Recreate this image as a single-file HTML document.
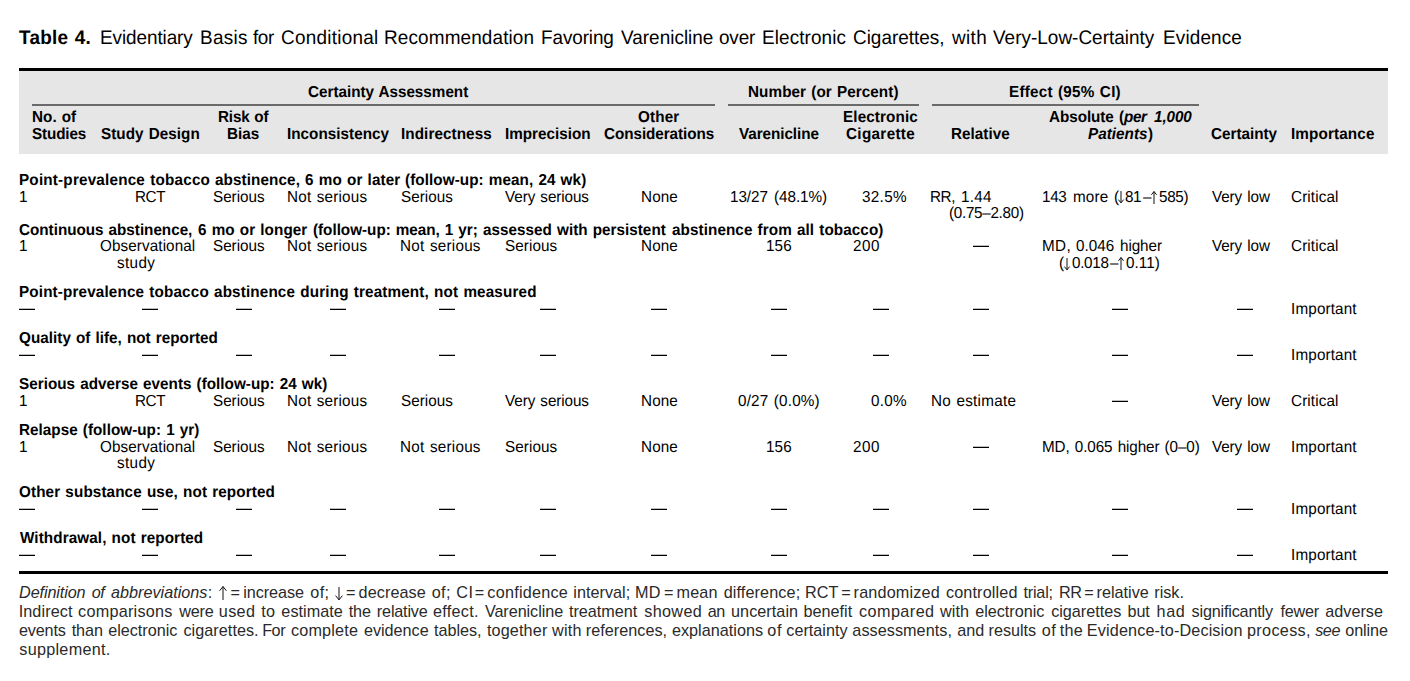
<!DOCTYPE html>
<html lang="en">
<head>
<meta charset="utf-8">
<title>Table 4</title>
<style>
html,body{margin:0;padding:0;background:#fff;}
body{width:1410px;height:681px;position:relative;overflow:hidden;font-family:"Liberation Sans",sans-serif;color:#000;}
.t{position:absolute;white-space:pre;line-height:20px;height:20px;margin:0;font-size:15.3px;transform:scaleY(1.04) skewX(.3deg);transform-origin:0 15px;}
.b{font-weight:bold;}
.i{font-style:italic;}
.f{font-size:16.2px;transform:none;color:#2a2a2a;}
.h{font-size:19.0px;transform:scaleY(1.03) skewX(.3deg);transform-origin:0 16px;}
.r,.a,.d{position:absolute;}
.d{width:16px;height:1px;background:#000;border-top:1px solid #bdbdbd;}
.a{overflow:visible;}
</style>
</head>
<body>
<div class="r" style="left:19px;top:71px;width:1369.3px;height:82.7px;background:#e6e6e6"></div>
<div class="r" style="left:19px;top:68px;width:1369.3px;height:3px;background:#000"></div>
<div class="r" style="left:32px;top:104px;width:683px;height:2px;background:#6a6a6a"></div>
<div class="r" style="left:728px;top:104px;width:191px;height:2px;background:#6a6a6a"></div>
<div class="r" style="left:932px;top:104px;width:267px;height:2px;background:#6a6a6a"></div>
<div class="r" style="left:19px;top:571px;width:1369.3px;height:3px;background:#000"></div>
<div class="t b h" style="left:19.34px;top:28px;letter-spacing:0.226px;word-spacing:0.8px;">Table 4.</div>
<div class="t h" style="left:99.69px;top:28px;letter-spacing:-0.119px;">Evidentiary</div>
<div class="t h" style="left:199.69px;top:28px;letter-spacing:0.246px;">Basis</div>
<div class="t h" style="left:252.54px;top:28px;letter-spacing:-0.450px;">for</div>
<div class="t h" style="left:280.99px;top:28px;letter-spacing:0.227px;">Conditional</div>
<div class="t h" style="left:384.19px;top:28px;letter-spacing:0.091px;">Recommendation</div>
<div class="t h" style="left:541.39px;top:28px;letter-spacing:-0.148px;">Favoring</div>
<div class="t h" style="left:620.87px;top:28px;letter-spacing:-0.016px;">Varenicline</div>
<div class="t h" style="left:719.45px;top:28px;letter-spacing:-0.216px;">over</div>
<div class="t h" style="left:761.99px;top:28px;letter-spacing:0.060px;">Electronic</div>
<div class="t h" style="left:853.29px;top:28px;letter-spacing:-0.040px;">Cigarettes,</div>
<div class="t h" style="left:951.98px;top:28px;letter-spacing:0.306px;">with</div>
<div class="t h" style="left:993.47px;top:28px;letter-spacing:-0.014px;">Very-Low-Certainty</div>
<div class="t h" style="left:1162.69px;top:28px;letter-spacing:0.106px;">Evidence</div>
<div class="t b" style="left:308.42px;top:82px;letter-spacing:-0.035px;word-spacing:0.8px;">Certainty Assessment</div>
<div class="t b" style="left:748.23px;top:82px;letter-spacing:0.055px;word-spacing:0.8px;">Number (or Percent)</div>
<div class="t b" style="left:1009.03px;top:82px;letter-spacing:0.213px;word-spacing:0.8px;">Effect (95% CI)</div>
<div class="t b" style="left:31.63px;top:107px;letter-spacing:0.013px;word-spacing:0.8px;">No. of</div>
<div class="t b" style="left:32.21px;top:124px;letter-spacing:-0.164px;">Studies</div>
<div class="t b" style="left:100.91px;top:124px;letter-spacing:0.023px;word-spacing:0.8px;">Study Design</div>
<div class="t b" style="left:218.23px;top:107px;letter-spacing:-0.201px;word-spacing:0.8px;">Risk of</div>
<div class="t b" style="left:226.93px;top:124px;letter-spacing:0.013px;">Bias</div>
<div class="t b" style="left:286.83px;top:124px;">Inconsistency</div>
<div class="t b" style="left:400.63px;top:124px;letter-spacing:0.058px;">Indirectness</div>
<div class="t b" style="left:504.73px;top:124px;letter-spacing:-0.029px;">Imprecision</div>
<div class="t b" style="left:638.22px;top:107px;letter-spacing:0.116px;">Other</div>
<div class="t b" style="left:604.22px;top:124px;letter-spacing:-0.091px;">Considerations</div>
<div class="t b" style="left:738.65px;top:124px;letter-spacing:-0.085px;">Varenicline</div>
<div class="t b" style="left:843.03px;top:107px;letter-spacing:0.101px;">Electronic</div>
<div class="t b" style="left:845.92px;top:124px;letter-spacing:0.306px;">Cigarette</div>
<div class="t b" style="left:951.13px;top:124px;">Relative</div>
<div class="t b" style="left:1048.97px;top:107px;letter-spacing:-0.091px;">Absolute</div>
<div class="t b" style="left:1119.44px;top:107px;">(</div>
<div class="t b i" style="left:1123.82px;top:107px;letter-spacing:-0.450px;">per</div>
<div class="t b i" style="left:1154.10px;top:107px;letter-spacing:-0.121px;">1,000</div>
<div class="t b i" style="left:1088.28px;top:124px;">Patients</div>
<div class="t b" style="left:1148.29px;top:124px;">)</div>
<div class="t b" style="left:1211.42px;top:124px;letter-spacing:-0.024px;">Certainty</div>
<div class="t b" style="left:1291.13px;top:124px;letter-spacing:0.110px;">Importance</div>
<div class="t b" style="left:18.73px;top:170px;letter-spacing:0.172px;word-spacing:0.8px;">Point-prevalence tobacco</div>
<div class="t b" style="left:214.80px;top:170px;letter-spacing:0.073px;word-spacing:0.8px;">abstinence, 6 mo or later</div>
<div class="t b" style="left:405.49px;top:170px;letter-spacing:0.052px;word-spacing:0.8px;">(follow-up: mean, 24 wk)</div>
<div class="t" style="left:19.03px;top:187px;">1</div>
<div class="t" style="left:213.36px;top:187px;letter-spacing:-0.053px;">Serious</div>
<div class="t" style="left:286.69px;top:187px;letter-spacing:0.174px;word-spacing:1.0px;">Not serious</div>
<div class="t" style="left:640.59px;top:187px;letter-spacing:0.089px;">None</div>
<div class="t" style="left:1211.98px;top:187px;letter-spacing:-0.126px;word-spacing:1.0px;">Very low</div>
<div class="t" style="left:1291.37px;top:187px;letter-spacing:0.094px;">Critical</div>
<div class="t" style="left:134.68px;top:187px;letter-spacing:-0.450px;">RCT</div>
<div class="t" style="left:400.96px;top:187px;letter-spacing:0.014px;">Serious</div>
<div class="t" style="left:505.48px;top:187px;letter-spacing:-0.105px;word-spacing:1.0px;">Very serious</div>
<div class="t" style="left:730.08px;top:187px;letter-spacing:-0.086px;">13/27</div>
<div class="t" style="left:774.30px;top:187px;letter-spacing:-0.061px;">(48.1%)</div>
<div class="t" style="left:861.97px;top:187px;letter-spacing:0.289px;">32.5%</div>
<div class="t" style="left:930.29px;top:187px;letter-spacing:-0.450px;">RR,</div>
<div class="t" style="left:960.58px;top:187px;letter-spacing:0.281px;">1.44</div>
<div class="t" style="left:1042.18px;top:187px;letter-spacing:-0.342px;">143</div>
<div class="t" style="left:1073.13px;top:187px;letter-spacing:0.115px;">more</div>
<div class="t" style="left:1113.65px;top:187px;">(</div>
<div class="t" style="left:1125.13px;top:187px;letter-spacing:-0.450px;">81</div>
<div class="t" style="left:1143.15px;top:187px;">–</div>
<div class="t" style="left:1158.74px;top:187px;letter-spacing:-0.352px;">585)</div>
<div class="t" style="left:949.20px;top:203px;letter-spacing:-0.324px;">(0.75–2.80)</div>
<div class="t b" style="left:19.12px;top:220px;letter-spacing:-0.039px;word-spacing:0.8px;">Continuous abstinence,</div>
<div class="t b" style="left:197.79px;top:220px;letter-spacing:0.050px;word-spacing:0.8px;">6 mo or longer</div>
<div class="t b" style="left:313.09px;top:220px;letter-spacing:-0.034px;word-spacing:0.8px;">(follow-up: mean, 1 yr;</div>
<div class="t b" style="left:483.10px;top:220px;letter-spacing:0.006px;word-spacing:0.8px;">assessed with persistent</div>
<div class="t b" style="left:672.10px;top:220px;letter-spacing:0.059px;word-spacing:0.8px;">abstinence from all tobacco)</div>
<div class="t" style="left:19.03px;top:236px;">1</div>
<div class="t" style="left:213.36px;top:236px;letter-spacing:-0.053px;">Serious</div>
<div class="t" style="left:286.69px;top:236px;letter-spacing:0.174px;word-spacing:1.0px;">Not serious</div>
<div class="t" style="left:640.59px;top:236px;letter-spacing:0.089px;">None</div>
<div class="t" style="left:1211.98px;top:236px;letter-spacing:-0.126px;word-spacing:1.0px;">Very low</div>
<div class="t" style="left:1291.37px;top:236px;letter-spacing:0.094px;">Critical</div>
<div class="t" style="left:100.23px;top:236px;letter-spacing:0.072px;">Observational</div>
<div class="t" style="left:117.22px;top:253px;letter-spacing:0.324px;">study</div>
<div class="t" style="left:400.39px;top:236px;letter-spacing:0.214px;word-spacing:1.0px;">Not serious</div>
<div class="t" style="left:504.86px;top:236px;letter-spacing:0.047px;">Serious</div>
<div class="t" style="left:766.08px;top:236px;letter-spacing:0.058px;">156</div>
<div class="t" style="left:852.80px;top:236px;letter-spacing:0.550px;">200</div>
<div class="t" style="left:1041.89px;top:236px;letter-spacing:0.345px;">MD,</div>
<div class="t" style="left:1076.25px;top:236px;">0.046</div>
<div class="t" style="left:1120.19px;top:236px;letter-spacing:-0.101px;">higher</div>
<div class="t" style="left:1058.85px;top:253px;">(</div>
<div class="t" style="left:1071.95px;top:253px;letter-spacing:-0.329px;">0.018</div>
<div class="t" style="left:1110.05px;top:253px;">–</div>
<div class="t" style="left:1125.95px;top:253px;">0.11)</div>
<div class="t b" style="left:18.73px;top:282px;letter-spacing:0.120px;word-spacing:0.8px;">Point-prevalence tobacco abstinence during treatment, not measured</div>
<div class="t" style="left:1290.74px;top:299px;letter-spacing:0.126px;">Important</div>
<div class="t b" style="left:19.12px;top:328px;letter-spacing:0.006px;word-spacing:0.8px;">Quality of life, not reported</div>
<div class="t" style="left:1290.74px;top:345px;letter-spacing:0.126px;">Important</div>
<div class="t b" style="left:19.31px;top:374px;word-spacing:0.8px;">Serious adverse events (follow-up: 24 wk)</div>
<div class="t" style="left:19.03px;top:391px;">1</div>
<div class="t" style="left:213.36px;top:391px;letter-spacing:-0.053px;">Serious</div>
<div class="t" style="left:286.69px;top:391px;letter-spacing:0.174px;word-spacing:1.0px;">Not serious</div>
<div class="t" style="left:640.59px;top:391px;letter-spacing:0.089px;">None</div>
<div class="t" style="left:1211.98px;top:391px;letter-spacing:-0.126px;word-spacing:1.0px;">Very low</div>
<div class="t" style="left:1291.37px;top:391px;letter-spacing:0.094px;">Critical</div>
<div class="t" style="left:134.68px;top:391px;letter-spacing:-0.450px;">RCT</div>
<div class="t" style="left:400.96px;top:391px;letter-spacing:0.014px;">Serious</div>
<div class="t" style="left:505.48px;top:391px;letter-spacing:-0.105px;word-spacing:1.0px;">Very serious</div>
<div class="t" style="left:737.85px;top:391px;letter-spacing:0.157px;word-spacing:1.0px;">0/27 (0.0%)</div>
<div class="t" style="left:870.85px;top:391px;letter-spacing:0.259px;">0.0%</div>
<div class="t" style="left:930.79px;top:391px;letter-spacing:0.232px;word-spacing:1.0px;">No estimate</div>
<div class="t b" style="left:18.73px;top:420px;letter-spacing:0.011px;word-spacing:0.8px;">Relapse (follow-up: 1 yr)</div>
<div class="t" style="left:19.03px;top:437px;">1</div>
<div class="t" style="left:213.36px;top:437px;letter-spacing:-0.053px;">Serious</div>
<div class="t" style="left:286.69px;top:437px;letter-spacing:0.174px;word-spacing:1.0px;">Not serious</div>
<div class="t" style="left:640.59px;top:437px;letter-spacing:0.089px;">None</div>
<div class="t" style="left:1211.98px;top:437px;letter-spacing:-0.126px;word-spacing:1.0px;">Very low</div>
<div class="t" style="left:1290.74px;top:437px;letter-spacing:0.126px;">Important</div>
<div class="t" style="left:100.23px;top:437px;letter-spacing:0.072px;">Observational</div>
<div class="t" style="left:117.22px;top:453px;letter-spacing:0.324px;">study</div>
<div class="t" style="left:400.39px;top:437px;letter-spacing:0.214px;word-spacing:1.0px;">Not serious</div>
<div class="t" style="left:504.86px;top:437px;letter-spacing:0.047px;">Serious</div>
<div class="t" style="left:766.08px;top:437px;letter-spacing:0.058px;">156</div>
<div class="t" style="left:852.80px;top:437px;letter-spacing:0.550px;">200</div>
<div class="t" style="left:1041.89px;top:437px;letter-spacing:-0.119px;word-spacing:1.0px;">MD, 0.065 higher (0–0)</div>
<div class="t b" style="left:19.12px;top:482px;letter-spacing:0.086px;word-spacing:0.8px;">Other substance use, not reported</div>
<div class="t" style="left:1290.74px;top:499px;letter-spacing:0.126px;">Important</div>
<div class="t b" style="left:19.74px;top:528px;letter-spacing:0.069px;word-spacing:0.8px;">Withdrawal, not reported</div>
<div class="t" style="left:1290.74px;top:545px;letter-spacing:0.126px;">Important</div>
<div class="t i f" style="left:19.05px;top:582px;letter-spacing:-0.106px;">Definition</div>
<div class="t i f" style="left:91.81px;top:582px;letter-spacing:-0.450px;">of</div>
<div class="t i f" style="left:110.99px;top:582px;letter-spacing:0.009px;">abbreviations</div>
<div class="t f" style="left:207.82px;top:582px;">:</div>
<div class="t f" style="left:230.56px;top:582px;">=</div>
<div class="t f" style="left:243.17px;top:582px;letter-spacing:-0.055px;">increase</div>
<div class="t f" style="left:310.17px;top:582px;letter-spacing:0.469px;">of;</div>
<div class="t f" style="left:346.06px;top:582px;">=</div>
<div class="t f" style="left:358.57px;top:582px;letter-spacing:0.087px;">decrease</div>
<div class="t f" style="left:431.77px;top:582px;letter-spacing:0.319px;">of;</div>
<div class="t f" style="left:456.27px;top:582px;letter-spacing:0.550px;">CI</div>
<div class="t f" style="left:474.86px;top:582px;">=</div>
<div class="t f" style="left:487.36px;top:582px;letter-spacing:0.234px;">confidence</div>
<div class="t f" style="left:573.27px;top:582px;letter-spacing:0.032px;">interval;</div>
<div class="t f" style="left:635.12px;top:582px;letter-spacing:0.230px;">MD</div>
<div class="t f" style="left:663.96px;top:582px;">=</div>
<div class="t f" style="left:676.57px;top:582px;letter-spacing:0.145px;">mean</div>
<div class="t f" style="left:723.67px;top:582px;letter-spacing:0.124px;">difference;</div>
<div class="t f" style="left:805.12px;top:582px;letter-spacing:0.016px;">RCT</div>
<div class="t f" style="left:841.36px;top:582px;">=</div>
<div class="t f" style="left:853.57px;top:582px;letter-spacing:0.182px;">randomized</div>
<div class="t f" style="left:945.96px;top:582px;letter-spacing:0.138px;">controlled</div>
<div class="t f" style="left:1023.60px;top:582px;letter-spacing:-0.236px;">trial;</div>
<div class="t f" style="left:1058.90px;top:582px;letter-spacing:-0.450px;">RR</div>
<div class="t f" style="left:1084.26px;top:582px;">=</div>
<div class="t f" style="left:1096.57px;top:582px;">relative</div>
<div class="t f" style="left:1154.27px;top:582px;letter-spacing:-0.004px;">risk.</div>
<div class="t f" style="left:18.65px;top:601px;letter-spacing:0.104px;">Indirect</div>
<div class="t f" style="left:78.06px;top:601px;letter-spacing:0.261px;">comparisons</div>
<div class="t f" style="left:179.17px;top:601px;letter-spacing:-0.163px;">were</div>
<div class="t f" style="left:218.80px;top:601px;letter-spacing:0.331px;">used</div>
<div class="t f" style="left:261.30px;top:601px;letter-spacing:0.225px;">to</div>
<div class="t f" style="left:281.36px;top:601px;letter-spacing:0.033px;">estimate</div>
<div class="t f" style="left:348.70px;top:601px;letter-spacing:-0.119px;">the</div>
<div class="t f" style="left:376.87px;top:601px;letter-spacing:-0.184px;">relative</div>
<div class="t f" style="left:433.06px;top:601px;letter-spacing:0.262px;">effect.</div>
<div class="t f" style="left:484.88px;top:601px;letter-spacing:-0.059px;">Varenicline</div>
<div class="t f" style="left:569.00px;top:601px;letter-spacing:-0.027px;">treatment</div>
<div class="t f" style="left:644.20px;top:601px;letter-spacing:0.360px;">showed</div>
<div class="t f" style="left:707.75px;top:601px;letter-spacing:-0.450px;">an</div>
<div class="t f" style="left:731.00px;top:601px;letter-spacing:0.064px;">uncertain</div>
<div class="t f" style="left:803.61px;top:601px;letter-spacing:-0.007px;">benefit</div>
<div class="t f" style="left:858.96px;top:601px;letter-spacing:0.450px;">compared</div>
<div class="t f" style="left:940.07px;top:601px;letter-spacing:0.047px;">with</div>
<div class="t f" style="left:975.26px;top:601px;letter-spacing:-0.018px;">electronic</div>
<div class="t f" style="left:1051.16px;top:601px;">cigarettes</div>
<div class="t f" style="left:1127.61px;top:601px;letter-spacing:-0.120px;">but</div>
<div class="t f" style="left:1156.61px;top:601px;letter-spacing:0.550px;">had</div>
<div class="t f" style="left:1191.60px;top:601px;letter-spacing:-0.182px;">significantly</div>
<div class="t f" style="left:1280.52px;top:601px;letter-spacing:-0.221px;">fewer</div>
<div class="t f" style="left:1325.36px;top:601px;">adverse</div>
<div class="t f" style="left:19.06px;top:620px;letter-spacing:-0.184px;">events</div>
<div class="t f" style="left:71.70px;top:620px;letter-spacing:-0.069px;">than</div>
<div class="t f" style="left:108.16px;top:620px;letter-spacing:-0.007px;">electronic</div>
<div class="t f" style="left:183.46px;top:620px;letter-spacing:0.049px;">cigarettes.</div>
<div class="t f" style="left:262.18px;top:620px;letter-spacing:-0.450px;">For</div>
<div class="t f" style="left:290.96px;top:620px;letter-spacing:0.189px;">complete</div>
<div class="t f" style="left:363.96px;top:620px;letter-spacing:-0.013px;">evidence</div>
<div class="t f" style="left:434.10px;top:620px;letter-spacing:-0.032px;">tables,</div>
<div class="t f" style="left:486.90px;top:620px;letter-spacing:0.145px;">together</div>
<div class="t f" style="left:552.07px;top:620px;letter-spacing:0.214px;">with</div>
<div class="t f" style="left:585.87px;top:620px;letter-spacing:0.025px;">references,</div>
<div class="t f" style="left:671.96px;top:620px;letter-spacing:0.016px;">explanations</div>
<div class="t f" style="left:767.37px;top:620px;letter-spacing:0.550px;">of</div>
<div class="t f" style="left:786.36px;top:620px;letter-spacing:-0.007px;">certainty</div>
<div class="t f" style="left:852.36px;top:620px;letter-spacing:0.053px;">assessments,</div>
<div class="t f" style="left:957.16px;top:620px;letter-spacing:0.062px;">and</div>
<div class="t f" style="left:988.57px;top:620px;letter-spacing:-0.019px;">results</div>
<div class="t f" style="left:1041.82px;top:620px;letter-spacing:0.550px;">of</div>
<div class="t f" style="left:1059.80px;top:620px;letter-spacing:0.281px;">the</div>
<div class="t f" style="left:1086.82px;top:620px;letter-spacing:0.144px;">Evidence-to-Decision</div>
<div class="t f" style="left:1247.01px;top:620px;letter-spacing:0.332px;">process,</div>
<div class="t i f" style="left:1315.23px;top:620px;letter-spacing:-0.450px;">see</div>
<div class="t f" style="left:1345.37px;top:620px;letter-spacing:-0.121px;">online</div>
<div class="t f" style="left:19.30px;top:639px;letter-spacing:0.274px;">supplement.</div>
<div class="d" style="left:973px;top:245px"></div>
<div class="d" style="left:19px;top:308px"></div>
<div class="d" style="left:142px;top:308px"></div>
<div class="d" style="left:236px;top:308px"></div>
<div class="d" style="left:330px;top:308px"></div>
<div class="d" style="left:439px;top:308px"></div>
<div class="d" style="left:540px;top:308px"></div>
<div class="d" style="left:651px;top:308px"></div>
<div class="d" style="left:771px;top:308px"></div>
<div class="d" style="left:873px;top:308px"></div>
<div class="d" style="left:973px;top:308px"></div>
<div class="d" style="left:1112px;top:308px"></div>
<div class="d" style="left:1237px;top:308px"></div>
<div class="d" style="left:19px;top:354px"></div>
<div class="d" style="left:142px;top:354px"></div>
<div class="d" style="left:236px;top:354px"></div>
<div class="d" style="left:330px;top:354px"></div>
<div class="d" style="left:439px;top:354px"></div>
<div class="d" style="left:540px;top:354px"></div>
<div class="d" style="left:651px;top:354px"></div>
<div class="d" style="left:771px;top:354px"></div>
<div class="d" style="left:873px;top:354px"></div>
<div class="d" style="left:973px;top:354px"></div>
<div class="d" style="left:1112px;top:354px"></div>
<div class="d" style="left:1237px;top:354px"></div>
<div class="d" style="left:1112px;top:400px"></div>
<div class="d" style="left:973px;top:446px"></div>
<div class="d" style="left:19px;top:508px"></div>
<div class="d" style="left:142px;top:508px"></div>
<div class="d" style="left:236px;top:508px"></div>
<div class="d" style="left:330px;top:508px"></div>
<div class="d" style="left:439px;top:508px"></div>
<div class="d" style="left:540px;top:508px"></div>
<div class="d" style="left:651px;top:508px"></div>
<div class="d" style="left:771px;top:508px"></div>
<div class="d" style="left:873px;top:508px"></div>
<div class="d" style="left:973px;top:508px"></div>
<div class="d" style="left:1112px;top:508px"></div>
<div class="d" style="left:1237px;top:508px"></div>
<div class="d" style="left:19px;top:554px"></div>
<div class="d" style="left:142px;top:554px"></div>
<div class="d" style="left:236px;top:554px"></div>
<div class="d" style="left:330px;top:554px"></div>
<div class="d" style="left:439px;top:554px"></div>
<div class="d" style="left:540px;top:554px"></div>
<div class="d" style="left:651px;top:554px"></div>
<div class="d" style="left:771px;top:554px"></div>
<div class="d" style="left:873px;top:554px"></div>
<div class="d" style="left:973px;top:554px"></div>
<div class="d" style="left:1112px;top:554px"></div>
<div class="d" style="left:1237px;top:554px"></div>
<svg class="a" style="left:1116.50px;top:191.30px" width="8" height="12.40" viewBox="0 0 8 12.40"><path d="M4 0V11.80M1.4 8.60L4 11.90L6.6 8.60" fill="none" stroke="#111" stroke-width="1"/></svg>
<svg class="a" style="left:1150.00px;top:190.70px" width="8" height="13.00" viewBox="0 0 8 13.00"><path d="M4 13.00V0.6M1.4 3.8L4 0.5L6.6 3.8" fill="none" stroke="#111" stroke-width="1"/></svg>
<svg class="a" style="left:1062.90px;top:258.00px" width="8" height="12.40" viewBox="0 0 8 12.40"><path d="M4 0V11.80M1.4 8.60L4 11.90L6.6 8.60" fill="none" stroke="#111" stroke-width="1"/></svg>
<svg class="a" style="left:1117.00px;top:257.40px" width="8" height="13.00" viewBox="0 0 8 13.00"><path d="M4 13.00V0.6M1.4 3.8L4 0.5L6.6 3.8" fill="none" stroke="#111" stroke-width="1"/></svg>
<svg class="a" style="left:218.50px;top:586.00px" width="8" height="14.00" viewBox="0 0 8 14.00"><path d="M4 14.00V0.6M0.6 4.8L4 0.5L7.4 4.8" fill="none" stroke="#111" stroke-width="1"/></svg>
<svg class="a" style="left:334.50px;top:586.60px" width="8" height="13.40" viewBox="0 0 8 13.40"><path d="M4 0V12.80M0.6 8.60L4 12.90L7.4 8.60" fill="none" stroke="#111" stroke-width="1"/></svg>
</body>
</html>
